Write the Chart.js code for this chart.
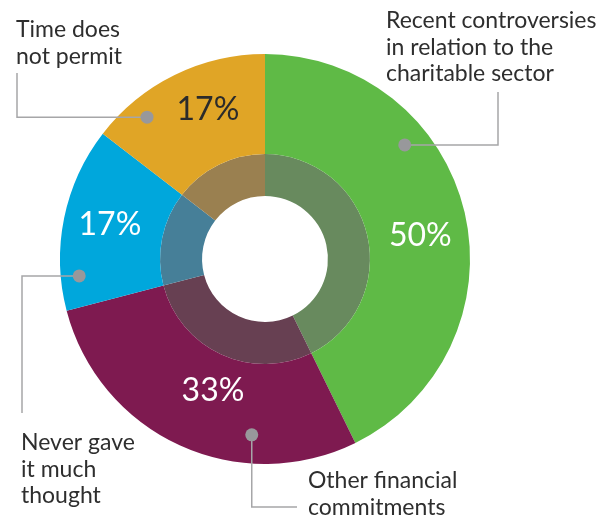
<!DOCTYPE html>
<html>
<head>
<meta charset="utf-8">
<script src="https://cdn.jsdelivr.net/npm/chart.js@4"></script>
<style>
  html, body { margin: 0; padding: 0; background: #fff; }
  #wrap { width: 613px; height: 518px; }
</style>
</head>
<body>
<div id="wrap"><canvas id="donut" width="613" height="518"></canvas></div>
<script>
const categories = [
    "Recent controversies in relation to the charitable sector",
    "Other financial commitments",
    "Never gave it much thought",
    "Time does not permit"
];
const values = [50, 33, 17, 17];
const percentLabels = ["50%", "33%", "17%", "17%"];
const labelLines = [
    ["Recent controversies", "in relation to the", "charitable sector"],
    ["Other financial", "commitments"],
    ["Never gave", "it much", "thought"],
    ["Time does", "not permit"]
];
const outerColors = ["#5fba46", "#7e1a50", "#00a7dc", "#e0a526"];
const innerColors = ["#688a5e", "#674052", "#467f98", "#9a8050"];

// callout layout: where the dot sits in its slice, how the leader runs, where the text goes
const callouts = [
    {frac: 0.33, r: 0.88, path: "hv", to: [498, 92], text: [386, 28]},
    {frac: 0.30, r: 0.86, path: "vh", to: [297, 507], text: [308, 488]},
    {frac: 0.18, r: 0.91, path: "hv", to: [22, 413], text: [21, 450]},
    {frac: 0.24, r: 0.90, path: "hv", to: [17, 73], text: [16, 37]}
];
// where the percentage sits inside each slice (fraction of the sweep, fraction of radius)
const pctFrac = [0.53, 0.47, 0.52, 0.60];
const pctRadius = [0.766, 0.69, 0.775, 0.78];
const pctColors = ["#fff", "#fff", "#fff", "#2b2b2b"];

const calloutPlugin = {
    id: "callouts",
    afterDatasetsDraw(chart) {
        const ctx = chart.ctx;
        const arcs = chart.getDatasetMeta(0).data;
        ctx.save();
        arcs.forEach((arc, i) => {
            const p = arc.getProps(["x", "y", "startAngle", "endAngle", "outerRadius"], true);
            const c = callouts[i];

            // percent label
            const pa = p.startAngle + (p.endAngle - p.startAngle) * pctFrac[i];
            const pr = p.outerRadius * pctRadius[i];
            ctx.fillStyle = pctColors[i];
            ctx.font = "400 32px Lato";
            ctx.textAlign = "center";
            ctx.textBaseline = "middle";
            ctx.fillText(percentLabels[i], p.x + Math.cos(pa) * pr, p.y + Math.sin(pa) * pr);

            // leader line + dot
            const a = p.startAngle + (p.endAngle - p.startAngle) * c.frac;
            const dx = p.x + Math.cos(a) * p.outerRadius * c.r;
            const dy = p.y + Math.sin(a) * p.outerRadius * c.r;
            ctx.strokeStyle = "#a6a6a8";
            ctx.lineWidth = 1.5;
            ctx.beginPath();
            ctx.moveTo(dx, dy);
            if (c.path === "hv") {
                ctx.lineTo(c.to[0], dy);
            } else {
                ctx.lineTo(dx, c.to[1]);
            }
            ctx.lineTo(c.to[0], c.to[1]);
            ctx.stroke();
            ctx.fillStyle = "#98989b";
            ctx.beginPath();
            ctx.arc(dx, dy, 6.5, 0, Math.PI * 2);
            ctx.fill();

            // category text
            ctx.fillStyle = "#2e2e2e";
            ctx.font = "400 23px Lato";
            ctx.textAlign = "left";
            ctx.textBaseline = "alphabetic";
            labelLines[i].forEach((line, k) => {
                ctx.fillText(line, c.text[0], c.text[1] + k * 26.5);
            });
        });
        ctx.restore();
    }
};

new Chart(document.getElementById("donut"), {
    type: "doughnut",
    data: {
        labels: categories,
        datasets: [
            {data: values, backgroundColor: outerColors, borderWidth: 0, weight: 100},
            {data: values, backgroundColor: innerColors, borderWidth: 0, weight: 42}
        ]
    },
    options: {
        responsive: false,
        animation: false,
        cutout: "30.7%",
        layout: {padding: {left: 60, right: 143, top: 54, bottom: 54}},
        plugins: {legend: {display: false}, tooltip: {enabled: false}}
    },
    plugins: [calloutPlugin]
});
</script>
</body>
</html>
